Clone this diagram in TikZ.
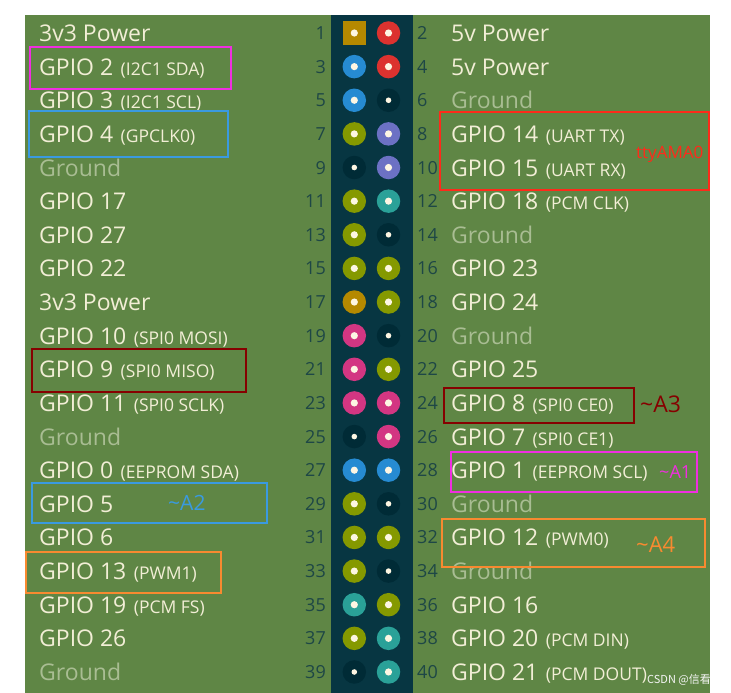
\documentclass[tikz,border=0pt]{standalone}
\usepackage{fontspec}
\setmainfont{Open Sans}
\newfontfamily\cjkfont{Noto Sans CJK SC}
\definecolor{bg}{HTML}{5F8645}
\definecolor{strip}{HTML}{073642}
\definecolor{gnd}{HTML}{002B36}
\definecolor{cream}{HTML}{FDF6E3}
\definecolor{txt}{HTML}{F2EED6}
\definecolor{gtxt}{HTML}{A9BD93}
\definecolor{numc}{HTML}{1E4746}
\definecolor{yel}{HTML}{B58900}
\definecolor{red5}{HTML}{DC322F}
\definecolor{blu}{HTML}{268BD2}
\definecolor{grn}{HTML}{859900}
\definecolor{vio}{HTML}{6C71C4}
\definecolor{mag}{HTML}{D33682}
\definecolor{cya}{HTML}{2AA198}
\definecolor{bmag}{HTML}{F02EE0}
\definecolor{bblu}{HTML}{3A9AE0}
\definecolor{bred}{HTML}{FF2A1A}
\definecolor{bdred}{HTML}{860000}
\definecolor{bora}{HTML}{F88A30}
\newcommand\smalltxt[1]{\hspace{1.5pt}{\fontsize{17.5}{19}\selectfont #1}}
\begin{document}
\begin{tikzpicture}[x=1pt,y=-1pt,
  lbl/.style={anchor=base west,inner sep=0pt,text=txt,font=\fontsize{23}{25}\selectfont},
  glbl/.style={lbl,text=gtxt},
  num/.style={inner sep=0pt,text=numc,font=\fontsize{18}{20}\selectfont},
  pin/.style={circle,minimum size=23.5pt,inner sep=0pt,draw=none},
  boxline/.style={line width=2pt},
  ann/.style={anchor=base west,inner sep=0pt}]
\useasboundingbox (0,0) rectangle (731,693);
\fill[white] (0,0) rectangle (731,693);
\fill[bg] (25,15) rectangle (710,693);
\fill[strip] (331,15) rectangle (413,693);
% left labels
\foreach \r/\t/\s in {
  1/{3v3 Power}/lbl,
  2/{GPIO 2 \smalltxt{(I2C1 SDA)}}/lbl,
  3/{GPIO 3 \smalltxt{(I2C1 SCL)}}/lbl,
  4/{GPIO 4 \smalltxt{(GPCLK0)}}/lbl,
  5/{Ground}/glbl,
  6/{GPIO 17}/lbl,
  7/{GPIO 27}/lbl,
  8/{GPIO 22}/lbl,
  9/{3v3 Power}/lbl,
  10/{GPIO 10 \smalltxt{(SPI0 MOSI)}}/lbl,
  11/{GPIO 9 \smalltxt{(SPI0 MISO)}}/lbl,
  12/{GPIO 11 \smalltxt{(SPI0 SCLK)}}/lbl,
  13/{Ground}/glbl,
  14/{GPIO 0 \smalltxt{(EEPROM SDA)}}/lbl,
  15/{GPIO 5}/lbl,
  16/{GPIO 6}/lbl,
  17/{GPIO 13 \smalltxt{(PWM1)}}/lbl,
  18/{GPIO 19 \smalltxt{(PCM FS)}}/lbl,
  19/{GPIO 26}/lbl,
  20/{Ground}/glbl} {
  \pgfmathsetmacro\yy{33+(\r-1)*33.63+8.5}
  \node[\s] (L\r) at (39,\yy) {\t};
}
% right labels
\foreach \r/\t/\s in {
  1/{5v Power}/lbl,
  2/{5v Power}/lbl,
  3/{Ground}/glbl,
  4/{GPIO 14 \smalltxt{(UART TX)}}/lbl,
  5/{GPIO 15 \smalltxt{(UART RX)}}/lbl,
  6/{GPIO 18 \smalltxt{(PCM CLK)}}/lbl,
  7/{Ground}/glbl,
  8/{GPIO 23}/lbl,
  9/{GPIO 24}/lbl,
  10/{Ground}/glbl,
  11/{GPIO 25}/lbl,
  12/{GPIO 8 \smalltxt{(SPI0 CE0)}}/lbl,
  13/{GPIO 7 \smalltxt{(SPI0 CE1)}}/lbl,
  14/{GPIO 1 \smalltxt{(EEPROM SCL)}}/lbl,
  15/{Ground}/glbl,
  16/{GPIO 12 \smalltxt{(PWM0)}}/lbl,
  17/{Ground}/glbl,
  18/{GPIO 16}/lbl,
  19/{GPIO 20 \smalltxt{(PCM DIN)}}/lbl,
  20/{GPIO 21 \smalltxt{(PCM DOUT)}}/lbl} {
  \pgfmathsetmacro\yy{33+(\r-1)*33.63+8.5}
  \node[\s] (R\r) at (451,\yy) {\t};
}
% pin 1 (square)
\node[rectangle,minimum size=23.5pt,inner sep=0pt,fill=yel] (P1) at (354.3,33) {};
\fill[cream] (P1.center) circle (3.6pt);
\node[num,anchor=base east] (N1) at (326,39.5) {1};
% odd pins
\foreach \n/\c/\dr in {3/blu/3.6,5/blu/3.6,7/grn/3.6,9/gnd/2.8,11/grn/3.6,13/grn/3.6,
  15/grn/3.6,17/yel/3.6,19/mag/3.6,21/mag/3.6,23/mag/3.6,25/gnd/2.8,27/blu/3.6,
  29/grn/3.6,31/grn/3.6,33/grn/3.6,35/cya/3.6,37/grn/3.6,39/gnd/2.8} {
  \pgfmathsetmacro\yy{33+((\n+1)/2-1)*33.63}
  \node[pin,fill=\c] (P\n) at (354.3,\yy) {};
  \fill[cream] (P\n.center) circle (\dr pt);
  \node[num,anchor=base east] (N\n) at (326,\yy+6.5) {\n};
}
% even pins
\foreach \n/\c/\dr in {2/red5/3.6,4/red5/3.6,6/gnd/2.8,8/vio/3.6,10/vio/3.6,12/cya/3.6,
  14/gnd/2.8,16/grn/3.6,18/grn/3.6,20/gnd/2.8,22/grn/3.6,24/mag/3.6,26/mag/3.6,
  28/blu/3.6,30/gnd/2.8,32/grn/3.6,34/gnd/2.8,36/grn/3.6,38/cya/3.6,40/cya/3.6} {
  \pgfmathsetmacro\yy{33+(\n/2-1)*33.63}
  \node[pin,fill=\c] (P\n) at (388.5,\yy) {};
  \fill[cream] (P\n.center) circle (\dr pt);
  \node[num,anchor=base west] (N\n) at (417,\yy+6.5) {\n};
}
% highlight boxes
\draw[boxline,bmag] (30,47) rectangle (231,89);
\draw[boxline,bblu] (29,111) rectangle (228,157);
\draw[boxline,bred] (440,112) rectangle (709,190);
\draw[boxline,bdred] (32,349) rectangle (246,392);
\draw[boxline,bdred] (444,388) rectangle (634,423);
\draw[boxline,bmag] (451,452) rectangle (697,492);
\draw[boxline,bblu] (32,483) rectangle (267,523);
\draw[boxline,bora] (442,519) rectangle (705,567);
\draw[boxline,bora] (26,552) rectangle (221,593);
% annotations
\node[ann,text=bred,font=\fontsize{17}{19}\selectfont] (tty) at (636,158) {ttyAMA0};
\node[ann,text=bdred,font=\fontsize{23}{25}\selectfont] (a3) at (640,412) {\textasciitilde A3};
\node[ann,text=bmag,font=\fontsize{18}{20}\selectfont] (a1) at (659,478) {\textasciitilde A1};
\node[ann,text=bblu,font=\fontsize{21}{23}\selectfont] (a2) at (168,510) {\textasciitilde A2};
\node[ann,text=bora,font=\fontsize{22}{24}\selectfont] (a4) at (636,552) {\textasciitilde A4};
% watermark
\node[ann,text=white!92!gray,font=\cjkfont\fontsize{11}{13}\selectfont] (wm) at (647,683) {CSDN @信看};
\end{tikzpicture}
\end{document}
